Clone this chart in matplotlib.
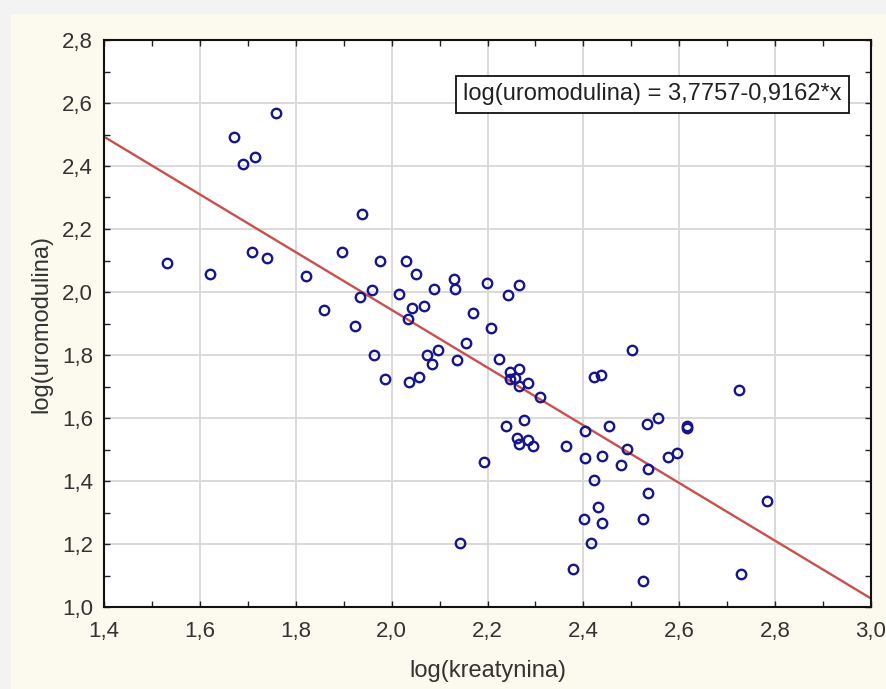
import matplotlib
matplotlib.use("Agg")
import matplotlib.pyplot as plt
from matplotlib.ticker import MultipleLocator, FuncFormatter
from matplotlib.patches import Rectangle
import numpy as np

# data
log_kreatynina = [
    1.671, 1.758, 1.690, 1.716, 1.938, 1.532, 1.622, 1.708, 1.739, 1.821,
    1.896, 1.976, 1.960, 1.934, 2.016, 1.859, 1.923, 1.964, 1.986, 2.029,
    2.051, 2.089, 2.130, 2.133, 2.198, 2.265, 2.243, 2.043, 2.067, 2.035,
    2.170, 2.208, 2.155, 2.074, 2.096, 2.085, 2.137, 2.036, 2.058, 2.223,
    2.247, 2.265, 2.247, 2.258, 2.284, 2.265, 2.309, 2.423, 2.436, 2.502,
    2.724, 2.239, 2.276, 2.262, 2.266, 2.285, 2.294, 2.193, 2.142, 2.363,
    2.404, 2.453, 2.404, 2.438, 2.423, 2.491, 2.479, 2.532, 2.555, 2.617,
    2.617, 2.535, 2.577, 2.596, 2.535, 2.430, 2.401, 2.438, 2.524, 2.416,
    2.379, 2.524, 2.728, 2.784,
]
log_uromodulina = [
    2.493, 2.567, 2.406, 2.430, 2.247, 2.091, 2.057, 2.126, 2.108, 2.051,
    2.126, 2.097, 2.006, 1.983, 1.994, 1.943, 1.891, 1.800, 1.724, 2.097,
    2.058, 2.011, 2.041, 2.010, 2.030, 2.023, 1.989, 1.948, 1.954, 1.914,
    1.932, 1.886, 1.839, 1.799, 1.816, 1.770, 1.783, 1.713, 1.731, 1.787,
    1.747, 1.754, 1.723, 1.728, 1.710, 1.701, 1.667, 1.730, 1.737, 1.816,
    1.690, 1.575, 1.594, 1.536, 1.517, 1.530, 1.512, 1.460, 1.202, 1.512,
    1.559, 1.576, 1.472, 1.479, 1.403, 1.502, 1.450, 1.581, 1.599, 1.575,
    1.569, 1.437, 1.477, 1.490, 1.363, 1.317, 1.278, 1.267, 1.278, 1.202,
    1.122, 1.083, 1.105, 1.336,
]
intercept = 3.7757
slope = -0.9162
equation_label = "log(uromodulina) = 3,7757-0,9162*x"
x_label = "log(kreatynina)"
y_label = "log(uromodulina)"

plt.rcParams['font.family'] = ['Liberation Sans', 'DejaVu Sans']

W, H = 886, 689
fig = plt.figure(figsize=(W / 100, H / 100), dpi=100)
fig.patch.set_facecolor('#fcf9ee')
# light outer strips (top and left)
fig.patches.append(Rectangle((0, 1 - 14 / H), 1, 14 / H, transform=fig.transFigure,
                             facecolor='#f3f3f3', edgecolor='none', zorder=0))
fig.patches.append(Rectangle((0, 0), 11 / W, 1, transform=fig.transFigure,
                             facecolor='#f3f3f3', edgecolor='none', zorder=0))

ax = fig.add_axes([104 / W, 1 - 607 / H, (871 - 104) / W, (607 - 40) / H])
ax.set_facecolor('white')

ax.set_xlim(1.4, 3.0)
ax.set_ylim(1.0, 2.8)
ax.xaxis.set_major_locator(MultipleLocator(0.2))
ax.xaxis.set_minor_locator(MultipleLocator(0.1))
ax.yaxis.set_major_locator(MultipleLocator(0.2))
ax.yaxis.set_minor_locator(MultipleLocator(0.1))
fmt = FuncFormatter(lambda v, p: f"{v:.1f}".replace('.', ','))
ax.xaxis.set_major_formatter(fmt)
ax.yaxis.set_major_formatter(fmt)

ax.grid(True, which='major', color='#d9d9d9', linewidth=1.4, zorder=0)
ax.set_axisbelow(True)

ax.tick_params(which='both', direction='in', top=True, right=True,
               length=4, width=1.0, color='#222222')
ax.tick_params(which='major', labelsize=16, labelcolor='#333333')
ax.tick_params(axis='x', which='major', pad=10)
ax.tick_params(axis='y', which='major', pad=8)

for s in ax.spines.values():
    s.set_linewidth(1.5)
    s.set_color('#111111')

xs = np.array([1.4, 3.0])
ax.plot(xs, intercept + slope * xs, color='#c9504f', linewidth=1.7, zorder=2,
        clip_on=True)

ax.plot(log_kreatynina, log_uromodulina, linestyle='none', marker='o',
        markersize=6.8, markerfacecolor='none', markeredgecolor='#15158f',
        markeredgewidth=1.7, zorder=3)

ax.text(0.962, 0.904, equation_label, transform=ax.transAxes, ha='right', va='center',
        fontsize=17, color='#222222', zorder=5,
        bbox=dict(boxstyle='square,pad=0.3', facecolor='white', edgecolor='#111111',
                  linewidth=1.3))

ax.set_xlabel(x_label, fontsize=17, color='#333333', labelpad=13)
ax.set_ylabel(y_label, fontsize=17, color='#333333', labelpad=7)

fig.savefig('out.png', dpi=100, facecolor=fig.get_facecolor())
